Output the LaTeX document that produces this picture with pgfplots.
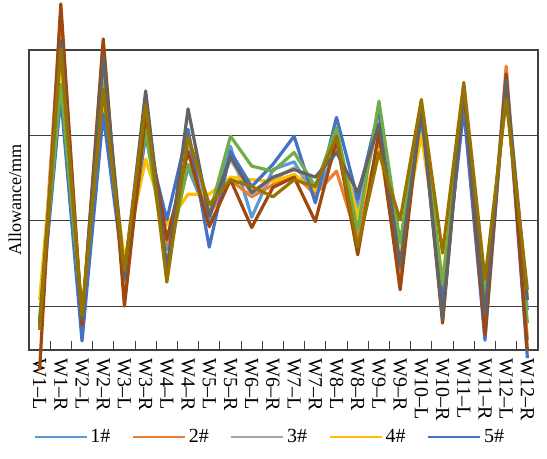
\documentclass[border=0pt]{standalone}
\usepackage{pgfplots}
\pgfplotsset{compat=1.18}
\usepackage{fontspec}
\setmainfont{Liberation Serif}
\definecolor{c1}{HTML}{5B9BD5}
\definecolor{c2}{HTML}{ED7D31}
\definecolor{c3}{HTML}{A5A5A5}
\definecolor{c4}{HTML}{FFC000}
\definecolor{c5}{HTML}{4472C4}
\definecolor{c6}{HTML}{70AD47}
\definecolor{c8}{HTML}{9E480E}
\definecolor{c9}{HTML}{636363}
\definecolor{c10}{HTML}{997300}
\definecolor{axc}{HTML}{404040}
\begin{document}
\begin{tikzpicture}
\begin{axis}[
  at={(0,0)}, anchor=south west,
  scale only axis, width=381.75pt, height=225pt,
  clip=false,
  xmin=-0.5, xmax=23.5, ymin=-0.515, ymax=3,
  xtick={0,...,23},
  xticklabels={W1–L,W1–R,W2–L,W2–R,W3–L,W3–R,W4–L,W4–R,W5–L,W5–R,W6–L,W6–R,W7–L,W7–R,W8–L,W8–R,W9–L,W9–R,W10–L,W10–R,W11–L,W11–R,W12–L,W12–R},
  minor xtick={-0.5,0.5,...,23.5},
  xtick pos=bottom,
  tick align=inside,
  major tick length=0pt,
  minor tick length=7pt,
  ytick={0,1,2,3}, yticklabels={},
  ymajorgrids,
  axis line style={axc, line width=0.8pt},
  every tick/.style={axc, line width=0.8pt},
  major grid style={axc, line width=0.8pt},
  xticklabel style={rotate=-90, anchor=west, font=\fontsize{15}{17}\selectfont, inner sep=0pt},
  xticklabel shift=6pt,
  ylabel={Allowance/mm},
  every axis y label/.style={at={(axis description cs:-0.0275,0.5)}, rotate=90, anchor=center, font=\fontsize{13.6}{15}\selectfont},
  legend columns=5,
  legend style={draw=none, fill=none, at={(0.4735,-0.29)}, anchor=center,
    font=\fontsize{15}{17}\selectfont,
    /tikz/every even column/.append style={column sep=14pt}},
  legend image code/.code={\draw[#1, line width=1.8pt] (0pt,0pt) -- (39pt,0pt);},
  every axis plot/.append style={line width=2.4pt, line join=round, mark=none},
]
\addplot[c1] coordinates {(0,-0.22)(1,2.54)(2,-0.34)(3,2.42)(4,0.31)(5,2.01)(6,0.66)(7,1.62)(8,1.01)(9,1.87)(10,1.04)(11,1.60)(12,1.69)(13,1.27)(14,1.84)(15,1.16)(16,2.25)(17,0.52)(18,2.19)(19,0.19)(20,2.42)(21,0.01)(22,2.54)(23,-0.05)};
\addlegendentry{1\#}
\addplot[c2] coordinates {(0,-0.28)(1,3.45)(2,-0.19)(3,3.07)(4,0.13)(5,2.21)(6,0.72)(7,1.84)(8,1.07)(9,1.48)(10,1.28)(11,1.42)(12,1.54)(13,1.31)(14,1.58)(15,0.78)(16,1.95)(17,0.31)(18,2.31)(19,-0.11)(20,2.54)(21,-0.28)(22,2.81)(23,-0.40)};
\addlegendentry{2\#}
\addplot[c3] coordinates {(0,-0.22)(1,3.01)(2,-0.16)(3,2.84)(4,0.31)(5,2.36)(6,0.45)(7,1.89)(8,1.07)(9,1.72)(10,1.31)(11,1.48)(12,1.62)(13,1.42)(14,1.89)(15,1.07)(16,2.19)(17,0.56)(18,2.31)(19,0.07)(20,2.48)(21,-0.05)(22,2.60)(23,0.07)};
\addlegendentry{3\#}
\addplot[c4] coordinates {(0,0.07)(1,2.89)(2,-0.05)(3,2.48)(4,0.54)(5,1.72)(6,0.95)(7,1.31)(8,1.31)(9,1.51)(10,1.48)(11,1.46)(12,1.54)(13,1.36)(14,2.01)(15,1.05)(16,1.84)(17,0.66)(18,2.01)(19,0.31)(20,2.42)(21,0.13)(22,2.48)(23,0.07)};
\addlegendentry{4\#}
\addplot[c5] coordinates {(0,-0.22)(1,2.46)(2,-0.41)(3,2.25)(4,0.31)(5,2.01)(6,1.01)(7,2.07)(8,0.69)(9,1.81)(10,1.40)(11,1.66)(12,1.99)(13,1.21)(14,2.21)(15,1.25)(16,2.31)(17,0.45)(18,2.25)(19,0.07)(20,2.31)(21,-0.40)(22,2.69)(23,-0.61)};
\addlegendentry{5\#}
\addplot[c6, forget plot] coordinates {(0,-0.16)(1,2.60)(2,-0.14)(3,2.60)(4,0.36)(5,2.07)(6,0.48)(7,1.66)(8,1.07)(9,1.99)(10,1.64)(11,1.58)(12,1.80)(13,1.40)(14,2.09)(15,0.89)(16,2.40)(17,0.74)(18,2.36)(19,0.25)(20,2.48)(21,0.07)(22,2.54)(23,-0.20)};
\addplot[c8, forget plot] coordinates {(0,-0.75)(1,3.54)(2,-0.22)(3,3.13)(4,0.00)(5,2.25)(6,0.78)(7,1.81)(8,0.93)(9,1.48)(10,0.92)(11,1.39)(12,1.51)(13,0.99)(14,1.95)(15,0.60)(16,2.04)(17,0.19)(18,2.36)(19,-0.20)(20,2.56)(21,-0.34)(22,2.72)(23,-0.52)};
\addplot[c9, forget plot] coordinates {(0,-0.22)(1,3.11)(2,-0.16)(3,2.92)(4,0.36)(5,2.52)(6,0.42)(7,2.31)(8,1.05)(9,1.75)(10,1.33)(11,1.51)(12,1.60)(13,1.51)(14,1.80)(15,1.33)(16,2.13)(17,0.48)(18,2.31)(19,-0.16)(20,2.54)(21,-0.11)(22,2.66)(23,0.07)};
\addplot[c10, forget plot] coordinates {(0,-0.28)(1,3.01)(2,-0.11)(3,2.54)(4,0.42)(5,2.36)(6,0.28)(7,1.99)(8,1.19)(9,1.48)(10,1.40)(11,1.28)(12,1.48)(13,1.40)(14,1.99)(15,0.69)(16,1.80)(17,1.01)(18,2.42)(19,0.62)(20,2.62)(21,0.31)(22,2.42)(23,0.19)};
\end{axis}
\pgfresetboundingbox
\path[use as bounding box] (-21.75pt,-81pt) rectangle (388.5pt,262.5pt);
\end{tikzpicture}
\end{document}
